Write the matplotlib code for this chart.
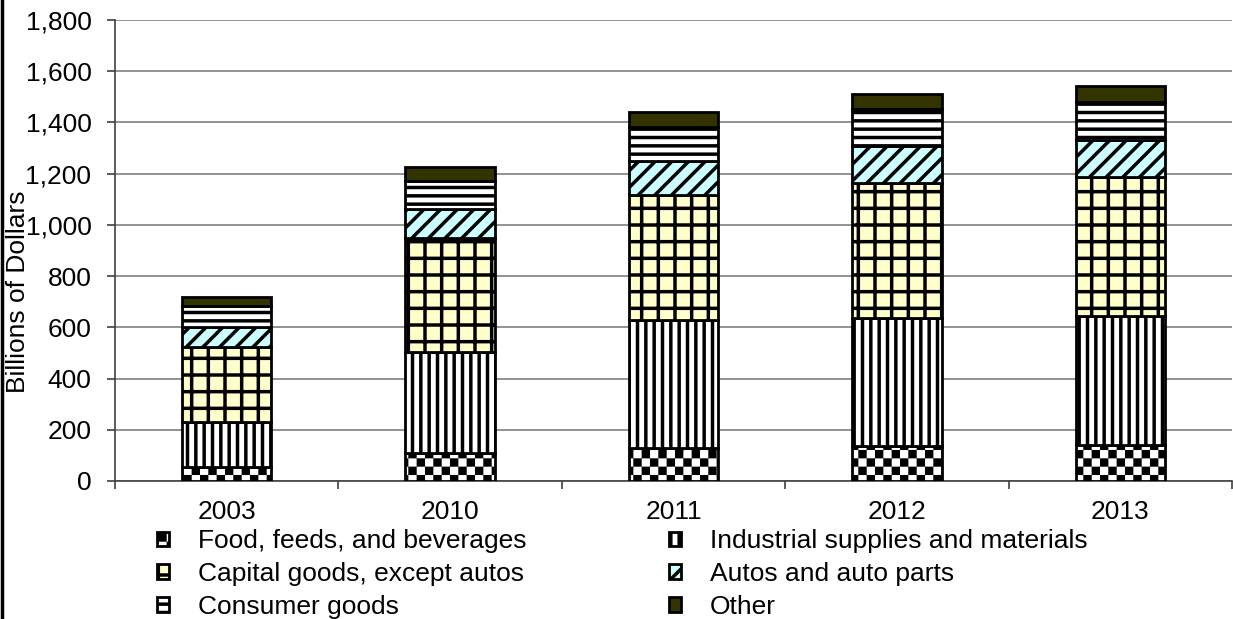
import numpy as np
import matplotlib
matplotlib.use("Agg")
import matplotlib.pyplot as plt
from matplotlib import hatch as mhatch
from matplotlib.path import Path
from matplotlib.lines import Line2D

years = ["2003", "2010", "2011", "2012", "2013"]
food = [56, 110, 128, 137, 140]
industrial = [176, 392, 501, 498, 504]
capital = [292, 446, 488, 527, 542]
autos = [78, 113, 134, 146, 145]
consumer = [81, 112, 130, 143, 147]
other = [37, 54, 59, 59, 66]

series_names = ["Food, feeds, and beverages", "Industrial supplies and materials",
                "Capital goods, except autos", "Autos and auto parts",
                "Consumer goods", "Other"]
series_values = [food, industrial, capital, autos, consumer, other]
series_colors = ["white", "white", "#FFFFCC", "#CCFFFF", "white", "#333300"]
series_hatches = ["O", "||", "+", "//", "--", ""]

DPI = 100
FS = 19
plt.rcParams['font.family'] = ['Liberation Sans', 'DejaVu Sans']
plt.rcParams['hatch.linewidth'] = 2.5


# checkerboard hatch, registered on the 'O' character
class CheckerHatch(mhatch.HatchPatternBase):
    def __init__(self, hatch, density):
        self.n = 12 if 'O' in hatch else 0
        self.num_vertices = (self.n * self.n // 2) * 5

    def set_vertices_and_codes(self, vertices, codes):
        s = 1.0 / self.n
        inset = 0.017
        k = 0
        for i in range(self.n):
            for j in range(self.n):
                if (i + j) % 2:
                    continue
                x0, y0 = i * s + inset, j * s + inset
                x1, y1 = (i + 1) * s - inset, (j + 1) * s - inset
                vertices[k:k + 5] = [(x0, y0), (x1, y0), (x1, y1), (x0, y1), (x0, y0)]
                codes[k:k + 5] = [Path.MOVETO, Path.LINETO, Path.LINETO,
                                  Path.LINETO, Path.CLOSEPOLY]
                k += 5


mhatch._hatch_types = [h for h in mhatch._hatch_types if h is not mhatch.LargeCircles]
mhatch._hatch_types.append(CheckerHatch)

fig = plt.figure(figsize=(12.33, 6.19), dpi=DPI)
ax = fig.add_axes([115 / 1233, 1 - 481 / 619, 1117 / 1233, 461 / 619])

x = np.arange(len(years))
bottom = np.zeros(len(years))
handles = []
for name, vals, col, h in zip(series_names, series_values, series_colors, series_hatches):
    bars = ax.bar(x, vals, width=0.4, bottom=bottom, color=col, edgecolor='black',
                  hatch=h, linewidth=2, label=name, zorder=3)
    handles.append(bars)
    bottom += np.array(vals)

ax.set_xlim(-0.5, 4.5)
ax.set_ylim(0, 1800)
ax.set_yticks(range(0, 1801, 200))
ax.set_yticklabels([f"{v:,}" for v in range(0, 1801, 200)])
ax.yaxis.grid(True, color='#808080', linewidth=1.2)
ax.set_axisbelow(True)

ax.set_xticks(x)
ax.set_xticklabels(years)
ax.set_xticks(np.arange(-0.5, 5, 1), minor=True)
ax.tick_params(axis='x', which='major', length=0, pad=14, labelsize=FS)
ax.tick_params(axis='x', which='minor', length=6, width=1.2, color='#404040')
ax.tick_params(axis='y', length=6, width=1.2, color='#404040', pad=11, labelsize=FS)

for side in ['top', 'right']:
    ax.spines[side].set_visible(False)
ax.spines['left'].set_color('#404040')
ax.spines['bottom'].set_color('#404040')
ax.spines['left'].set_linewidth(1.2)
ax.spines['bottom'].set_linewidth(1.2)

fig.text(18 / 1233, 1 - 292 / 619, "Billions of Dollars", rotation=90,
         ha='center', va='center', fontsize=FS)

# legend in two columns, filled row by row
order = [0, 2, 4, 1, 3, 5]
fig.legend([handles[i] for i in order], [series_names[i] for i in order],
           ncol=2, loc='upper left', bbox_to_anchor=(157 / 1233, 1 - 529 / 619),
           frameon=False, fontsize=FS, handlelength=0.45, handleheight=0.45,
           handletextpad=1.1, columnspacing=5.4, labelspacing=0.34,
           borderpad=0, borderaxespad=0)

# left border of the picture
fig.add_artist(Line2D([0.0015, 0.0015], [0, 1], color='black', linewidth=2.5,
                      transform=fig.transFigure))

fig.savefig("out.png", dpi=DPI)
